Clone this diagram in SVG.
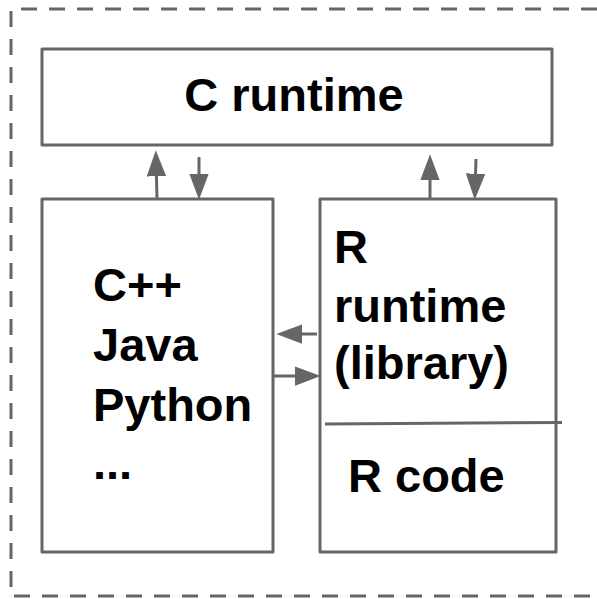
<svg xmlns="http://www.w3.org/2000/svg" width="597" height="599" viewBox="0 0 597 599">
<defs>
<style>
.box{fill:#ffffff;stroke:#666666;stroke-width:3;stroke-linejoin:round}
.frame{fill:none;stroke:#666666;stroke-width:3;stroke-dasharray:16 12}
.conn{stroke:#666666;stroke-width:3;fill:none;marker-end:url(#ah)}
.t{font-family:"Liberation Sans",Arial,sans-serif;font-weight:bold;font-size:47px;fill:#000000}
</style>
<marker id="ah" markerUnits="userSpaceOnUse" markerWidth="26" markerHeight="20" viewBox="0 0 24 18" refX="16" refY="9" orient="auto">
<path d="M0,0 L24,9 L0,18 Z" fill="#666666"/>
</marker>
</defs>
<rect width="597" height="599" fill="#ffffff"/>
<path class="frame" d="M597,9 H11 V596 H597"/>
<g id="c-runtime">
<rect class="box" x="42" y="49" width="510" height="96"/>
<text class="t" x="294" y="111" text-anchor="middle">C runtime</text>
</g>
<g id="languages">
<rect class="box" x="42" y="199" width="231" height="353"/>
<text class="t" x="93" y="301">C++</text>
<text class="t" x="93" y="361">Java</text>
<text class="t" x="93" y="421">Python</text>
<text class="t" x="93" y="479">...</text>
</g>
<g id="r-box">
<rect class="box" x="320" y="199" width="236" height="353"/>
<text class="t" x="334" y="263">R</text>
<text class="t" x="334" y="322">runtime</text>
<text class="t" x="334" y="379">(library)</text>
<line x1="325" y1="424" x2="562" y2="422.5" stroke="#666666" stroke-width="3"/>
<text class="t" x="348" y="492">R code</text>
</g>
<g id="connectors">
<line class="conn" x1="157" y1="199" x2="156" y2="159"/>
<line class="conn" x1="199" y1="157" x2="199" y2="191"/>
<line class="conn" x1="430" y1="199" x2="430" y2="163"/>
<line class="conn" x1="476" y1="159" x2="475" y2="191"/>
<line class="conn" x1="317" y1="334" x2="285" y2="334"/>
<line class="conn" x1="273" y1="376" x2="312" y2="376"/>
</g>
</svg>
